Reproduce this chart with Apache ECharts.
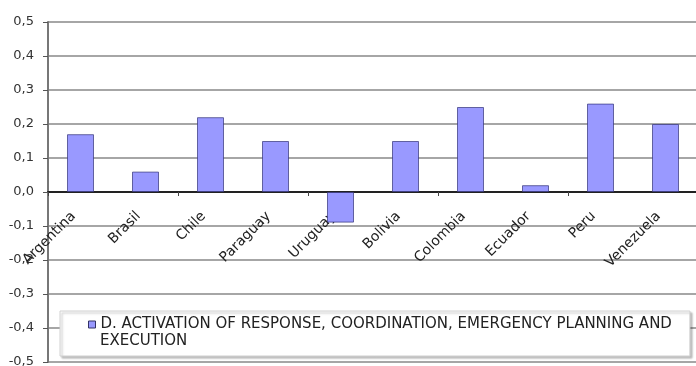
<!DOCTYPE html>
<html><head><meta charset="utf-8">
<script src="https://cdn.jsdelivr.net/npm/echarts@6/dist/echarts.min.js"></script>
<style>html,body{margin:0;padding:0;background:#fff}#c{width:696px;height:366px}</style>
</head><body><div id="c"></div>
<script>
var categories = ['Argentina','Brasil','Chile','Paraguay','Uruguay','Bolivia','Colombia','Ecuador','Peru','Venezuela'];
var values = [0.17, 0.06, 0.22, 0.15, -0.09, 0.15, 0.25, 0.02, 0.26, 0.20];
var seriesName = 'D. ACTIVATION OF RESPONSE, COORDINATION, EMERGENCY PLANNING AND EXECUTION';
var legendLine1 = 'D. ACTIVATION OF RESPONSE, COORDINATION, EMERGENCY PLANNING AND';
var legendLine2 = 'EXECUTION';
var yMin = -0.5, yMax = 0.5, yStep = 0.1;

var chart = echarts.init(document.getElementById('c'), null, {renderer:'canvas'});
chart.setOption({
  animation:false,
  grid:[
    {left:48, top:22, width:650, height:340, containLabel:false, outerBoundsMode:'none'},
    {left:41, top:22, width:650, height:170, containLabel:false, outerBoundsMode:'none'}
  ],
  legend:{
    show:true, left:60, top:311,
    backgroundColor:'#fff', borderColor:'#d0d0d0', borderWidth:1,
    shadowColor:'rgba(0,0,0,0.25)', shadowOffsetX:2, shadowOffsetY:2, shadowBlur:2,
    padding:[5,18,23,28], itemWidth:7, itemHeight:7, itemGap:4,
    icon:'rect',
    formatter:function(){return legendLine1;},
    textStyle:{fontFamily:'DejaVu Sans', fontSize:15, color:'#222', lineHeight:17},
    itemStyle:{borderColor:'#333366', borderWidth:1},
    data:[seriesName]
  },
  graphic:[{
    type:'text', left:100, top:334, z:100,
    style:{text:legendLine2, font:'15px "DejaVu Sans"', fill:'#222'}
  }],
  xAxis:[{
    type:'category', data:categories, gridIndex:0,
    axisLine:{onZero:true, lineStyle:{color:'#222', width:2}},
    axisTick:{show:true, length:4, lineStyle:{color:'#444'}},
    axisLabel:{show:false}
  },{
    type:'category', data:categories, gridIndex:1,
    axisLine:{show:false}, axisTick:{show:false}, splitLine:{show:false},
    axisLabel:{rotate:45, interval:0, margin:22, fontFamily:'DejaVu Sans', fontSize:14, color:'#222'}
  }],
  yAxis:[{
    type:'value', min:yMin, max:yMax, interval:yStep, gridIndex:0,
    axisLine:{show:true, lineStyle:{color:'#777', width:2}},
    axisTick:{show:true, length:5, lineStyle:{color:'#555'}},
    splitLine:{show:true, lineStyle:{color:'#888', width:1.5}},
    axisLabel:{margin:14, fontFamily:'DejaVu Sans', fontSize:13, color:'#333',
      formatter:function(v){return v.toFixed(1).replace('.',',');}}
  },{
    type:'value', min:0, max:1, gridIndex:1, show:false
  }],
  series:[{
    name:seriesName, type:'bar', data:values, barWidth:27, xAxisIndex:0, yAxisIndex:0,
    itemStyle:{color:'#9999ff', borderColor:'rgba(50,50,120,0.7)', borderWidth:1}
  }]
});
</script></body></html>
